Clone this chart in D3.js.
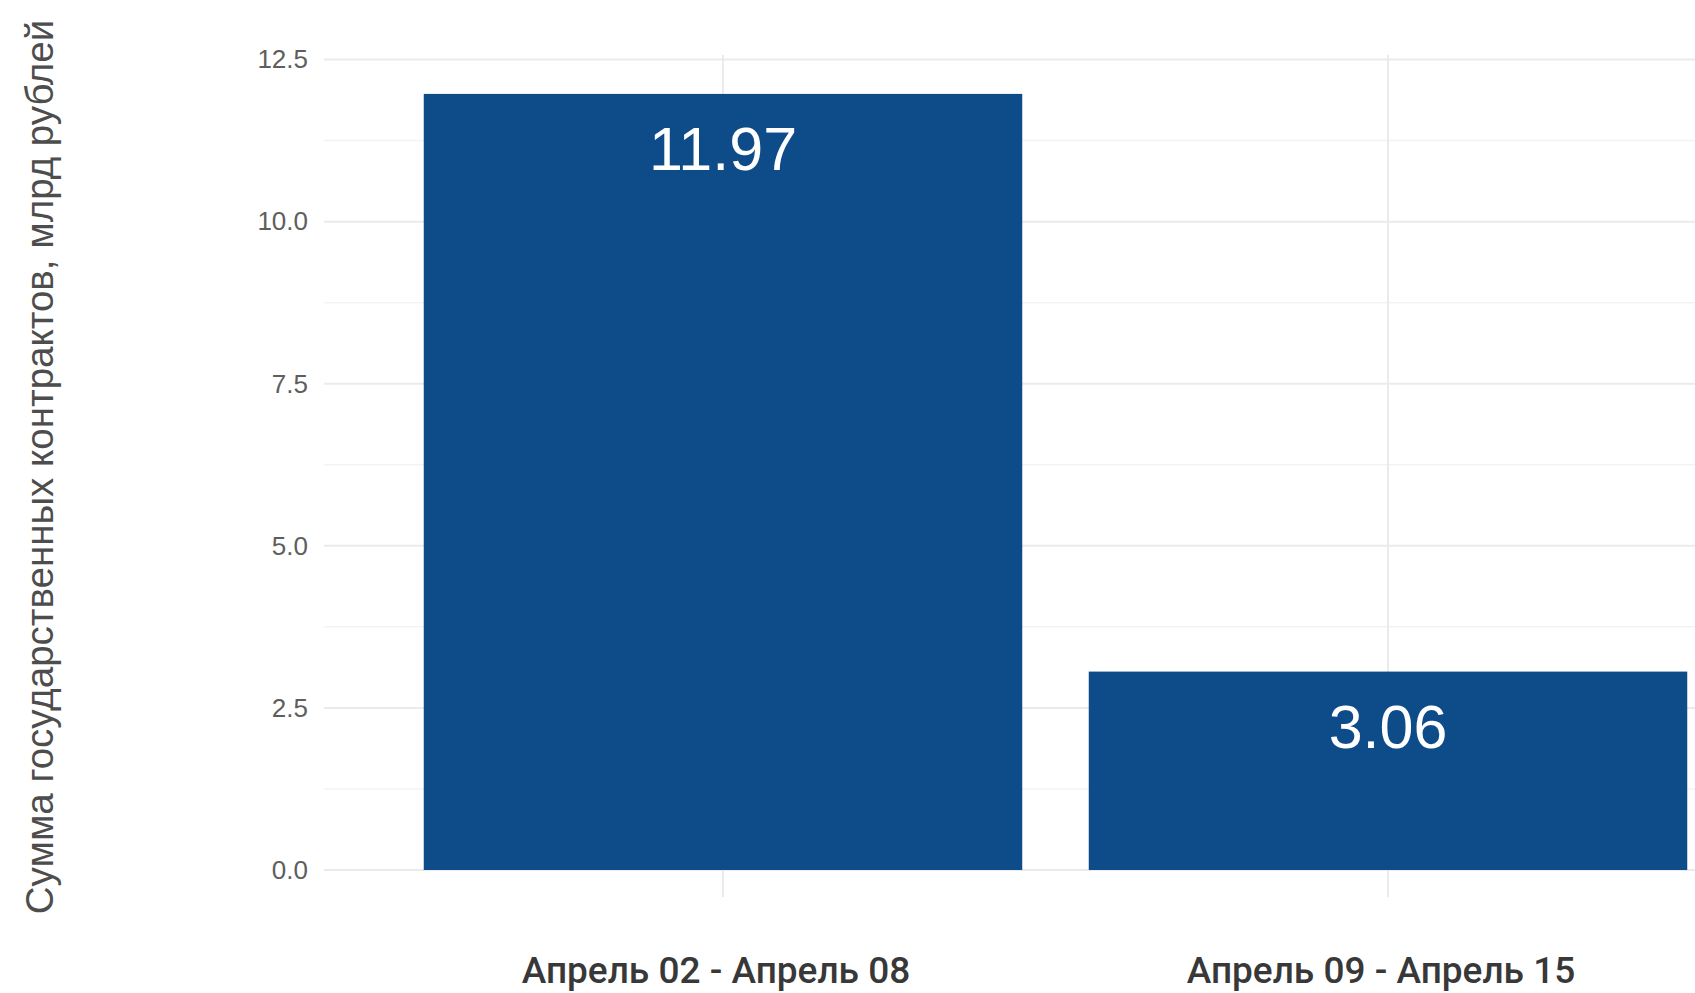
<!DOCTYPE html>
<html>
<head>
<meta charset="utf-8">
<script src="https://cdn.jsdelivr.net/npm/d3@7"></script>
<style>
  body { margin: 0; background: #fff; }
  svg { display: block; }
</style>
</head>
<body>
<svg></svg>
<script>
// data
const periods = ['Апрель 02 - Апрель 08', 'Апрель 09 - Апрель 15'];
const amounts = [11.97, 3.06];
const yTicks = [0, 2.5, 5, 7.5, 10, 12.5];
const yMinorTicks = [1.25, 3.75, 6.25, 8.75, 11.25];
const yTitle = 'Сумма государственных контрактов, млрд рублей';

const width = 1695, height = 993;
// panel runs past the right edge, like the cropped original
const panel = {left: 324, right: 1787, top: 55, bottom: 905};

const container = d3.select('svg')
    .attr('width', width)
    .attr('height', height);

const xScale = d3.scaleBand()
    .domain(periods)
    .range([panel.left, panel.right])
    .paddingInner(0.1)
    .paddingOuter(0.15);

const yScale = d3.scaleLinear()
    .domain([-0.54, 12.57])
    .range([panel.bottom, panel.top]);

const grid = container.append('g');

// minor gridlines
grid.selectAll('.minor')
    .data(yMinorTicks)
    .enter()
    .append('line')
    .attr('x1', panel.left)
    .attr('x2', width)
    .attr('y1', d => yScale(d))
    .attr('y2', d => yScale(d))
    .attr('stroke', '#f3f3f3')
    .attr('stroke-width', 1.5);

// major gridlines
grid.selectAll('.major')
    .data(yTicks)
    .enter()
    .append('line')
    .attr('x1', panel.left)
    .attr('x2', width)
    .attr('y1', d => yScale(d))
    .attr('y2', d => yScale(d))
    .attr('stroke', '#ebebeb')
    .attr('stroke-width', 2);

grid.selectAll('.vmajor')
    .data(periods)
    .enter()
    .append('line')
    .attr('x1', d => xScale(d) + xScale.bandwidth() / 2)
    .attr('x2', d => xScale(d) + xScale.bandwidth() / 2)
    .attr('y1', panel.top)
    .attr('y2', panel.bottom - 8)
    .attr('stroke', '#ebebeb')
    .attr('stroke-width', 2);

// y axis labels
const yAxis = container.append('g')
    .attr('transform', 'translate(308,0)')
    .call(d3.axisLeft(yScale).tickValues(yTicks).tickFormat(d3.format('.1f')).tickSize(0).tickPadding(0));
yAxis.select('.domain').remove();
yAxis.selectAll('text')
    .attr('font-family', '"Liberation Sans", Arial, sans-serif')
    .attr('font-size', 26)
    .attr('fill', '#5e5e5e')
    .attr('dy', '0.32em');

// x axis labels
const xAxis = container.append('g')
    .attr('transform', 'translate(0,' + panel.bottom + ')')
    .call(d3.axisBottom(xScale).tickSize(0).tickPadding(0));
xAxis.select('.domain').remove();
xAxis.selectAll('text')
    .attr('font-family', 'Roboto, sans-serif')
    .attr('font-weight', 500)
    .attr('font-size', 37)
    .attr('fill', '#383838')
    .attr('dx', -7)
    .attr('dy', 0)
    .attr('y', 78);

// y title
container.append('text')
    .attr('transform', 'translate(53,' + 467 + ') rotate(-90)')
    .attr('text-anchor', 'middle')
    .attr('font-family', '"Liberation Sans", Arial, sans-serif')
    .attr('font-size', 38.5)
    .attr('fill', '#4d4d4d')
    .text(yTitle);

// bars
container.selectAll('.bar')
    .data(amounts)
    .enter()
    .append('rect')
    .classed('bar', true)
    .attr('x', (d, i) => xScale(periods[i]))
    .attr('width', xScale.bandwidth())
    .attr('y', d => yScale(d))
    .attr('height', d => yScale(0) - yScale(d))
    .attr('fill', '#0e4b89');

// value labels
container.selectAll('.value')
    .data(amounts)
    .enter()
    .append('text')
    .classed('value', true)
    .attr('x', (d, i) => xScale(periods[i]) + xScale.bandwidth() / 2)
    .attr('y', d => yScale(d) + 76)
    .attr('text-anchor', 'middle')
    .attr('font-family', '"Liberation Sans", Arial, sans-serif')
    .attr('font-size', 61)
    .attr('fill', '#ffffff')
    .text(d => d.toFixed(2));
</script>
</body>
</html>
